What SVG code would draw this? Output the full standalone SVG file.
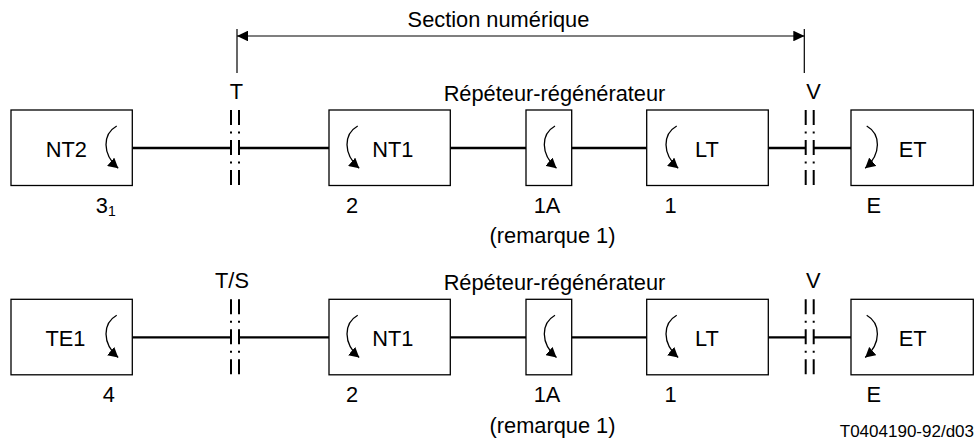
<svg xmlns="http://www.w3.org/2000/svg" width="975" height="441" viewBox="0 0 975 441">
  <style>
    text { font-family: "Liberation Sans", Arial, sans-serif; font-size: 21.8px; fill: #000; }
    .box { fill: #fff; stroke: #000; stroke-width: 1.3; }
    .wire { stroke: #000; stroke-width: 2.3; fill: none; }
    .iface { stroke: #000; stroke-width: 2; fill: none; stroke-dasharray: 15 6.5 2 6.5; }
    .dim { stroke: #000; stroke-width: 1.2; fill: none; }
    .loop { stroke: #000; stroke-width: 1.3; fill: none; marker-end: url(#loopHead); }
    .mid { text-anchor: middle; }
    .small { font-size: 17px; }
  </style>
  <defs>
    <marker id="loopHead" viewBox="0 0 10 11" refX="10" refY="5.5" markerWidth="10" markerHeight="11" markerUnits="userSpaceOnUse" orient="auto">
      <path d="M0,0 L10,5.5 L0,11 z" fill="#000"/>
    </marker>
    <marker id="dimHead" viewBox="0 0 11 10.6" refX="11" refY="5.3" markerWidth="11" markerHeight="10.6" markerUnits="userSpaceOnUse" orient="auto-start-reverse">
      <path d="M0,0 L11,5.3 L0,10.6 z" fill="#000"/>
    </marker>
  </defs>

  <!-- span of the digital section -->
  <g id="section">
    <line class="dim" x1="237" y1="29" x2="237" y2="73"/>
    <line class="dim" x1="804.3" y1="29" x2="804.3" y2="73"/>
    <line class="dim" x1="237" y1="36" x2="804.3" y2="36" marker-start="url(#dimHead)" marker-end="url(#dimHead)"/>
    <text class="mid" x="498.5" y="27.3">Section numérique</text>
  </g>

  <!-- connectors and reference points, both rows -->
  <g id="connectors">
    <line class="wire" x1="132.3" y1="148" x2="231" y2="148"/>
    <line class="wire" x1="239" y1="148" x2="329" y2="148"/>
    <line class="wire" x1="450.3" y1="148" x2="526" y2="148"/>
    <line class="wire" x1="571.7" y1="148" x2="646.7" y2="148"/>
    <line class="wire" x1="768.3" y1="148" x2="805.7" y2="148"/>
    <line class="wire" x1="813.7" y1="148" x2="851" y2="148"/>
    <line class="iface" x1="231" y1="110" x2="231" y2="185.5"/>
    <line class="iface" x1="239" y1="110" x2="239" y2="185.5"/>
    <line class="iface" x1="805.7" y1="110" x2="805.7" y2="185.5"/>
    <line class="iface" x1="813.7" y1="110" x2="813.7" y2="185.5"/>

    <line class="wire" x1="132.3" y1="337.3" x2="231" y2="337.3"/>
    <line class="wire" x1="239" y1="337.3" x2="329" y2="337.3"/>
    <line class="wire" x1="450.3" y1="337.3" x2="526" y2="337.3"/>
    <line class="wire" x1="571.7" y1="337.3" x2="646.7" y2="337.3"/>
    <line class="wire" x1="768.3" y1="337.3" x2="805.7" y2="337.3"/>
    <line class="wire" x1="813.7" y1="337.3" x2="851" y2="337.3"/>
    <line class="iface" x1="231" y1="299.3" x2="231" y2="374.8"/>
    <line class="iface" x1="239" y1="299.3" x2="239" y2="374.8"/>
    <line class="iface" x1="805.7" y1="299.3" x2="805.7" y2="374.8"/>
    <line class="iface" x1="813.7" y1="299.3" x2="813.7" y2="374.8"/>
  </g>

  <!-- row 1 -->
  <g id="row1">
    <text class="mid" x="236.3" y="99.3">T</text>
    <text class="mid" x="813.5" y="99.3">V</text>
    <text class="mid" x="554.5" y="100.5">Répéteur-régénérateur</text>
    <text class="mid" x="552.5" y="243.4">(remarque 1)</text>

    <g id="nt2">
      <rect class="box" x="11" y="110" width="121.3" height="75.5"/>
      <text class="mid" x="66.3" y="157.3">NT2</text>
      <path class="loop" d="M116.7,126 c-14,8 -15,28 1.5,42.3"/>
      <text x="95.8" y="212.8">3<tspan font-size="14" dy="3.4">1</tspan></text>
    </g>
    <g id="nt1">
      <rect class="box" x="329" y="110" width="121.3" height="75.5"/>
      <text class="mid" x="392.8" y="157">NT1</text>
      <path class="loop" d="M357.7,126 c-14,8 -15,28 1.5,42.3"/>
      <text x="346" y="212.8">2</text>
    </g>
    <g id="regen">
      <rect class="box" x="526" y="110" width="45.7" height="75.5"/>
      <path class="loop" d="M555,126 c-14,8 -15,28 1.5,42.3"/>
      <text x="533.7" y="212.8">1A</text>
    </g>
    <g id="lt">
      <rect class="box" x="646.7" y="110" width="121.6" height="75.5"/>
      <text class="mid" x="707" y="157">LT</text>
      <path class="loop" d="M676.7,126 c-14,8 -15,28 1.5,42.3"/>
      <text x="664.4" y="212.8">1</text>
    </g>
    <g id="et">
      <rect class="box" x="851" y="110" width="122.3" height="75.5"/>
      <text class="mid" x="912.7" y="157">ET</text>
      <path class="loop" d="M866.7,126 c14,8 15,28 -1.5,42.3"/>
      <text x="866.6" y="212.8">E</text>
    </g>
  </g>

  <!-- row 2 -->
  <g id="row2">
    <text class="mid" x="232" y="288.3">T/S</text>
    <text class="mid" x="813.3" y="288.3">V</text>
    <text class="mid" x="554.5" y="289.8">Répéteur-régénérateur</text>
    <text class="mid" x="552.5" y="432.7">(remarque 1)</text>

    <g id="te1">
      <rect class="box" x="11" y="299.3" width="121.3" height="75.5"/>
      <text class="mid" x="65.5" y="345.5">TE1</text>
      <path class="loop" d="M116.7,315.3 c-14,8 -15,28 1.5,42.3"/>
      <text x="102.7" y="401.5">4</text>
    </g>
    <g id="nt1-b">
      <rect class="box" x="329" y="299.3" width="121.3" height="75.5"/>
      <text class="mid" x="392.8" y="346.3">NT1</text>
      <path class="loop" d="M357.7,315.3 c-14,8 -15,28 1.5,42.3"/>
      <text x="346" y="401.5">2</text>
    </g>
    <g id="regen-b">
      <rect class="box" x="526" y="299.3" width="45.7" height="75.5"/>
      <path class="loop" d="M555,315.3 c-14,8 -15,28 1.5,42.3"/>
      <text x="533.7" y="401.5">1A</text>
    </g>
    <g id="lt-b">
      <rect class="box" x="646.7" y="299.3" width="121.6" height="75.5"/>
      <text class="mid" x="707" y="346.3">LT</text>
      <path class="loop" d="M676.7,315.3 c-14,8 -15,28 1.5,42.3"/>
      <text x="664.4" y="401.5">1</text>
    </g>
    <g id="et-b">
      <rect class="box" x="851" y="299.3" width="122.3" height="75.5"/>
      <text class="mid" x="912.7" y="346.3">ET</text>
      <path class="loop" d="M866.7,315.3 c14,8 15,28 -1.5,42.3"/>
      <text x="866.6" y="401.5">E</text>
    </g>
  </g>

  <text class="small" x="974" y="436.7" text-anchor="end">T0404190-92/d03</text>
</svg>
